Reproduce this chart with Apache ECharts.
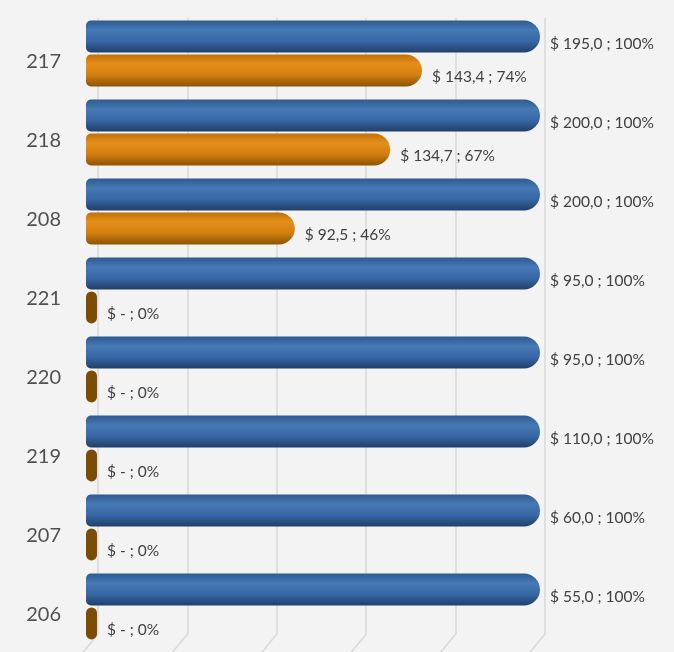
<!DOCTYPE html>
<html>
<head>
<meta charset="utf-8">
<script src="https://cdn.jsdelivr.net/npm/echarts@6/dist/echarts.min.js"></script>
<style>
  html, body { margin: 0; padding: 0; background: #f3f3f3; }
  #main { width: 674px; height: 652px; }
</style>
</head>
<body>
<div id="main"></div>
<script>
// datos (de arriba hacia abajo)
var categories = ['217', '218', '208', '221', '220', '219', '207', '206'];
var presupuesto = [195.0, 200.0, 200.0, 95.0, 95.0, 110.0, 60.0, 55.0];
var presupuestoPct = [100, 100, 100, 100, 100, 100, 100, 100];
var ejecutado = [143.4, 134.7, 92.5, 0, 0, 0, 0, 0];
var ejecutadoPct = [74, 67, 46, 0, 0, 0, 0, 0];
var ticks = [0, 20, 40, 60, 80, 100];

var myChart = echarts.init(document.getElementById('main'));

function monto(v) {
	if (!v) return '$ -';
	return '$ ' + v.toFixed(1).replace('.', ',');
}

var azul = new echarts.graphic.LinearGradient(0, 0, 0, 1, [
	{offset: 0, color: '#2e5a90'},
	{offset: 0.3, color: '#4679b6'},
	{offset: 0.65, color: '#3767a4'},
	{offset: 1, color: '#203f69'}
]);
var naranja = new echarts.graphic.LinearGradient(0, 0, 0, 1, [
	{offset: 0, color: '#c27006'},
	{offset: 0.3, color: '#e58f1b'},
	{offset: 0.65, color: '#d27e0d'},
	{offset: 1, color: '#8c5405'}
]);

var dataAzul = presupuestoPct.map(function(p, i) {
	return {value: p, monto: presupuesto[i]};
});
var dataNaranja = ejecutadoPct.map(function(p, i) {
	var item = {value: p, monto: ejecutado[i]};
	if (p === 0) {
		item.itemStyle = {color: '#7c4c03', borderRadius: [6, 6, 6, 6]};
	}
	return item;
});

var labelBase = {
	show: true,
	position: 'right',
	distance: 10,
	offset: [0, 7],
	color: '#404040',
	fontSize: 15.5,
	fontFamily: 'Lato, "Open Sans", sans-serif',
	formatter: function(p) {
		return monto(p.data.monto) + ' ; ' + p.value + '%';
	}
};

var option = {
	backgroundColor: '#f3f3f3',
	animation: false,
	grid: [
		{left: 86, right: 134, top: 14, bottom: 6},
		{left: 98, right: 129, top: 18, bottom: 18}
	],
	xAxis: [
		{gridIndex: 0, type: 'value', min: 0, max: 100, show: false},
		{
			gridIndex: 1, type: 'value', min: ticks[0], max: ticks[ticks.length - 1], interval: 20,
			axisLine: {show: false}, axisTick: {show: false}, axisLabel: {show: false},
			splitLine: {show: true, lineStyle: {color: '#d9d9d9', width: 1.5}}
		}
	],
	yAxis: [
		{
			gridIndex: 0, type: 'category', inverse: true, data: categories,
			axisLine: {show: false}, axisTick: {show: false},
			axisLabel: {
				color: '#505050', fontSize: 20, margin: 25,
				fontFamily: 'Lato, "Open Sans", sans-serif',
				verticalAlign: 'top', lineHeight: 16
			}
		},
		{gridIndex: 1, type: 'category', data: categories, show: false}
	],
	series: [
		{
			name: 'Presupuesto',
			type: 'bar',
			xAxisIndex: 0, yAxisIndex: 0,
			data: dataAzul,
			barWidth: 32,
			barGap: '6%',
			itemStyle: {color: azul, borderRadius: [5, 16, 16, 5]},
			label: labelBase,
			z: 3
		},
		{
			name: 'Ejecutado',
			type: 'bar',
			xAxisIndex: 0, yAxisIndex: 0,
			data: dataNaranja,
			barWidth: 32,
			barMinHeight: 11,
			itemStyle: {color: naranja, borderRadius: [5, 16, 16, 5]},
			label: labelBase,
			z: 3
		}
	]
};
myChart.setOption(option);

// lineas inclinadas del "piso" 3D bajo cada linea de division
var piso = ticks.map(function(t) {
	var x = myChart.convertToPixel({xAxisIndex: 1}, t);
	var yb = 652 - 18;
	return {
		type: 'line',
		silent: true,
		z: 1,
		shape: {x1: x, y1: yb, x2: x - 18, y2: yb + 22},
		style: {stroke: '#d9d9d9', lineWidth: 1.5}
	};
});
myChart.setOption({graphic: piso});
</script>
</body>
</html>
